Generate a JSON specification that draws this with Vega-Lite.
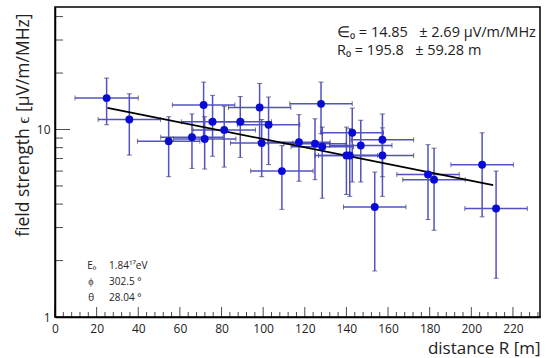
{
  "$schema": "https://vega.github.io/schema/vega-lite/v6.json",
  "width": 485,
  "height": 310,
  "autosize": {"type": "none"},
  "padding": {"left": 55, "top": 7, "right": 7, "bottom": 41},
  "background": "white",
  "config": {
    "view": {"stroke": "black", "strokeWidth": 1.5},
    "font": "Open Sans",
    "axis": {"domainColor": "black", "domainWidth": 1.5, "ticks": false, "grid": false, "labelColor": "#222", "titleColor": "#222", "titleFontWeight": "normal", "labelFont": "Open Sans", "titleFont": "Open Sans", "labelFlush": false, "labelOverlap": false}
  },
  "datasets": {
    "pts": [
      {"R": 24.8, "E": 14.7, "Elo": 10.6, "Ehi": 18.8, "Rlo": 9.6, "Rhi": 40.0},
      {"R": 35.7, "E": 11.3, "Elo": 7.3, "Ehi": 15.5, "Rlo": 20.7, "Rhi": 50.7},
      {"R": 54.6, "E": 8.66, "Elo": 5.6, "Ehi": 11.7, "Rlo": 39.6, "Rhi": 69.6},
      {"R": 65.8, "E": 9.1, "Elo": 6.2, "Ehi": 12.1, "Rlo": 50.8, "Rhi": 80.8},
      {"R": 71.4, "E": 13.5, "Elo": 9.1, "Ehi": 17.9, "Rlo": 56.4, "Rhi": 86.4},
      {"R": 71.9, "E": 8.9, "Elo": 6.15, "Ehi": 11.7, "Rlo": 56.9, "Rhi": 86.9},
      {"R": 75.7, "E": 11.0, "Elo": 7.2, "Ehi": 15.2, "Rlo": 60.7, "Rhi": 90.7},
      {"R": 81.3, "E": 9.95, "Elo": 6.3, "Ehi": 13.3, "Rlo": 66.3, "Rhi": 96.3},
      {"R": 89.0, "E": 11.0, "Elo": 7.1, "Ehi": 15.0, "Rlo": 74.0, "Rhi": 104.0},
      {"R": 98.3, "E": 13.1, "Elo": 8.6, "Ehi": 17.6, "Rlo": 83.3, "Rhi": 113.3},
      {"R": 99.3, "E": 8.46, "Elo": 5.6, "Ehi": 11.3, "Rlo": 84.3, "Rhi": 114.3},
      {"R": 102.6, "E": 10.6, "Elo": 6.5, "Ehi": 14.9, "Rlo": 87.6, "Rhi": 117.6},
      {"R": 109.0, "E": 6.0, "Elo": 3.75, "Ehi": 8.2, "Rlo": 94.0, "Rhi": 124.0},
      {"R": 117.2, "E": 8.56, "Elo": 5.3, "Ehi": 12.0, "Rlo": 102.2, "Rhi": 132.2},
      {"R": 124.9, "E": 8.4, "Elo": 5.4, "Ehi": 11.4, "Rlo": 109.9, "Rhi": 139.9},
      {"R": 127.8, "E": 13.7, "Elo": 9.5, "Ehi": 17.9, "Rlo": 112.8, "Rhi": 142.8},
      {"R": 128.4, "E": 8.1, "Elo": 4.3, "Ehi": 10.3, "Rlo": 113.4, "Rhi": 143.4},
      {"R": 142.8, "E": 9.6, "Elo": 5.25, "Ehi": 13.0, "Rlo": 127.8, "Rhi": 157.8},
      {"R": 146.9, "E": 8.22, "Elo": 5.25, "Ehi": 11.2, "Rlo": 131.9, "Rhi": 161.9},
      {"R": 140.0, "E": 7.27, "Elo": 4.5, "Ehi": 10.3, "Rlo": 125.0, "Rhi": 155.0},
      {"R": 141.6, "E": 7.27, "Elo": 4.4, "Ehi": 10.1, "Rlo": 126.6, "Rhi": 156.6},
      {"R": 157.3, "E": 8.81, "Elo": 5.6, "Ehi": 12.1, "Rlo": 142.3, "Rhi": 172.3},
      {"R": 157.3, "E": 7.27, "Elo": 4.4, "Ehi": 10.2, "Rlo": 142.3, "Rhi": 172.3},
      {"R": 153.6, "E": 3.86, "Elo": 1.76, "Ehi": 5.93, "Rlo": 138.6, "Rhi": 168.6},
      {"R": 179.2, "E": 5.76, "Elo": 3.31, "Ehi": 8.3, "Rlo": 164.2, "Rhi": 194.2},
      {"R": 182.1, "E": 5.4, "Elo": 2.9, "Ehi": 7.95, "Rlo": 167.1, "Rhi": 197.1},
      {"R": 205.2, "E": 6.49, "Elo": 3.42, "Ehi": 9.6, "Rlo": 190.2, "Rhi": 220.2},
      {"R": 211.9, "E": 3.79, "Elo": 1.61, "Ehi": 6.0, "Rlo": 196.9, "Rhi": 226.9}
    ],
    "fit": [
      {"R": 25.2, "E": 13.05},
      {"R": 210.5, "E": 5.05}
    ],
    "notes": [
      {"R": 135.5, "E": 32.8, "text": "∈₀ = 14.85\u00a0\u00a0 ± 2.69 μV/m/MHz", "size": 14.5},
      {"R": 135.5, "E": 26.3, "text": "R₀ = 195.8\u00a0\u00a0 ± 59.28 m", "size": 14.5},
      {"R": 15.5, "E": 1.86, "text": "E₀", "size": 10},
      {"R": 26.0, "E": 1.86, "text": "1.84¹⁷eV", "size": 10},
      {"R": 16.0, "E": 1.53, "text": "ϕ", "size": 10},
      {"R": 26.0, "E": 1.53, "text": "302.5 °", "size": 10},
      {"R": 16.0, "E": 1.27, "text": "θ", "size": 10},
      {"R": 26.0, "E": 1.27, "text": "28.04 °", "size": 10}
    ],
    "xMajor": [{"R": 0}, {"R": 20}, {"R": 40}, {"R": 60}, {"R": 80}, {"R": 100}, {"R": 120}, {"R": 140}, {"R": 160}, {"R": 180}, {"R": 200}, {"R": 220}],
    "xMinor": [{"R": 4}, {"R": 8}, {"R": 12}, {"R": 16}, {"R": 24}, {"R": 28}, {"R": 32}, {"R": 36}, {"R": 44}, {"R": 48}, {"R": 52}, {"R": 56}, {"R": 64}, {"R": 68}, {"R": 72}, {"R": 76}, {"R": 84}, {"R": 88}, {"R": 92}, {"R": 96}, {"R": 104}, {"R": 108}, {"R": 112}, {"R": 116}, {"R": 124}, {"R": 128}, {"R": 132}, {"R": 136}, {"R": 144}, {"R": 148}, {"R": 152}, {"R": 156}, {"R": 164}, {"R": 168}, {"R": 172}, {"R": 176}, {"R": 184}, {"R": 188}, {"R": 192}, {"R": 196}, {"R": 204}, {"R": 208}, {"R": 212}, {"R": 216}, {"R": 224}, {"R": 228}, {"R": 232}],
    "yMajor": [{"E": 1}, {"E": 10}],
    "yMinor": [{"E": 2}, {"E": 3}, {"E": 4}, {"E": 5}, {"E": 6}, {"E": 7}, {"E": 8}, {"E": 9}, {"E": 20}, {"E": 30}, {"E": 40}]
  },
  "layer": [
    {
      "data": {"name": "pts"},
      "mark": {"type": "rule", "color": "#5252c4", "strokeWidth": 1.5},
      "encoding": {
        "x": {
          "field": "Rlo", "type": "quantitative",
          "scale": {"domain": [0, 233], "nice": false, "zero": false},
          "axis": {
            "orient": "bottom",
            "title": "distance R [m]",
            "titleFontSize": 17,
            "titleAnchor": "end",
            "titleAlign": "right",
            "titleX": 485,
            "titleY": 36,
            "titleBaseline": "alphabetic",
            "values": [0,20,40,60,80,100,120,140,160,180,200,220],
            "labelFontSize": 12,
            "labelPadding": 6
          }
        },
        "x2": {"field": "Rhi"},
        "y": {
          "field": "E", "type": "quantitative",
          "scale": {"type": "log", "domain": [1, 45], "nice": false},
          "axis": {
            "orient": "left",
            "title": "field strength  ϵ [μV/m/MHz]",
            "titleFontSize": 17.5,
            "titleAngle": -90,
            "titleAlign": "right",
            "titleBaseline": "middle",
            "titleX": -32,
            "titleY": 6,
            "values": [1,10],
            "labelFontSize": 12,
            "labelPadding": 5
          }
        }
      }
    },
    {
      "data": {"name": "pts"},
      "mark": {"type": "rule", "color": "#5252c4", "strokeWidth": 1.5},
      "encoding": {
        "x": {"field": "R", "type": "quantitative"},
        "y": {"field": "Elo", "type": "quantitative"},
        "y2": {"field": "Ehi"}
      }
    },
    {
      "data": {"name": "pts"},
      "mark": {"type": "tick", "orient": "vertical", "color": "#3a3a6a", "size": 5, "thickness": 1},
      "encoding": {
        "x": {"field": "Rlo", "type": "quantitative"},
        "y": {"field": "E", "type": "quantitative"}
      }
    },
    {
      "data": {"name": "pts"},
      "mark": {"type": "tick", "orient": "vertical", "color": "#3a3a6a", "size": 5, "thickness": 1},
      "encoding": {
        "x": {"field": "Rhi", "type": "quantitative"},
        "y": {"field": "E", "type": "quantitative"}
      }
    },
    {
      "data": {"name": "pts"},
      "mark": {"type": "tick", "orient": "horizontal", "color": "#3a3a6a", "size": 5, "thickness": 1},
      "encoding": {
        "x": {"field": "R", "type": "quantitative"},
        "y": {"field": "Elo", "type": "quantitative"}
      }
    },
    {
      "data": {"name": "pts"},
      "mark": {"type": "tick", "orient": "horizontal", "color": "#3a3a6a", "size": 5, "thickness": 1},
      "encoding": {
        "x": {"field": "R", "type": "quantitative"},
        "y": {"field": "Ehi", "type": "quantitative"}
      }
    },
    {
      "data": {"name": "fit"},
      "mark": {"type": "line", "color": "black", "strokeWidth": 1.8},
      "encoding": {
        "x": {"field": "R", "type": "quantitative"},
        "y": {"field": "E", "type": "quantitative"}
      }
    },
    {
      "data": {"name": "pts"},
      "mark": {"type": "circle", "color": "#0a0ad6", "opacity": 1, "size": 62},
      "encoding": {
        "x": {"field": "R", "type": "quantitative"},
        "y": {"field": "E", "type": "quantitative"}
      }
    },
    {
      "data": {"name": "notes"},
      "mark": {"type": "text", "align": "left", "baseline": "middle", "color": "#222", "font": "Open Sans"},
      "encoding": {
        "x": {"field": "R", "type": "quantitative"},
        "y": {"field": "E", "type": "quantitative"},
        "text": {"field": "text"},
        "size": {"field": "size", "type": "quantitative", "scale": null}
      }
    },
    {
      "data": {"name": "xMajor"},
      "mark": {"type": "tick", "orient": "vertical", "color": "black", "size": 10, "thickness": 1, "yOffset": -5},
      "encoding": {
        "x": {"field": "R", "type": "quantitative"},
        "y": {"datum": 1, "type": "quantitative"}
      }
    },
    {
      "data": {"name": "xMinor"},
      "mark": {"type": "tick", "orient": "vertical", "color": "black", "size": 5, "thickness": 1, "yOffset": -2.5},
      "encoding": {
        "x": {"field": "R", "type": "quantitative"},
        "y": {"datum": 1, "type": "quantitative"}
      }
    },
    {
      "data": {"name": "yMajor"},
      "mark": {"type": "tick", "orient": "horizontal", "color": "black", "size": 15, "thickness": 1, "xOffset": 7.5},
      "encoding": {
        "x": {"datum": 0, "type": "quantitative"},
        "y": {"field": "E", "type": "quantitative"}
      }
    },
    {
      "data": {"name": "yMinor"},
      "mark": {"type": "tick", "orient": "horizontal", "color": "black", "size": 8, "thickness": 1, "xOffset": 4},
      "encoding": {
        "x": {"datum": 0, "type": "quantitative"},
        "y": {"field": "E", "type": "quantitative"}
      }
    }
  ]
}
